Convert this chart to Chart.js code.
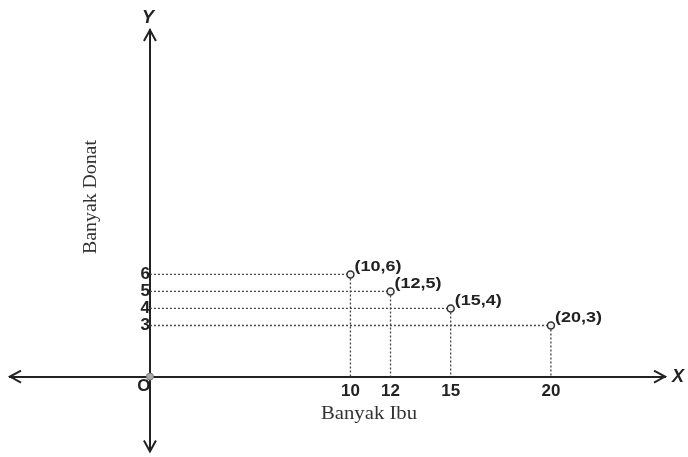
<!DOCTYPE html>
<html lang="id">
<head>
    <meta charset="UTF-8">
    <title>Banyak Ibu dan Banyak Donat</title>
    <script src="https://cdn.jsdelivr.net/npm/chart.js@4.4.1/dist/chart.umd.min.js"></script>
    <style>
        body { margin: 0; background: #fff; }
        canvas { display: block; }
    </style>
</head>
<body>
    <canvas id="grafik" width="688" height="457"></canvas>

    <script>
    // data
    var banyakIbu = [10, 12, 15, 20];
    var banyakDonat = [6, 5, 4, 3];
    var xTicks = [10, 12, 15, 20];
    var yTicks = [3, 4, 5, 6];
    var titikO = [{x: 0, y: 0}];

    var points = banyakIbu.map(function(v, i){ return {x: v, y: banyakDonat[i]}; });

    var ink = '#222';

    // dashed guides, arrows, labels
    var gambarPlugin = {
        id: 'gambar',
        beforeDatasetsDraw: function(chart){
            var ctx = chart.ctx, xs = chart.scales.x, ys = chart.scales.y;
            var x0 = xs.getPixelForValue(0), y0 = ys.getPixelForValue(0);
            ctx.save();
            ctx.strokeStyle = '#444';
            ctx.lineWidth = 1.3;
            ctx.setLineDash([2, 2]);
            points.forEach(function(p){
                var px = xs.getPixelForValue(p.x), py = ys.getPixelForValue(p.y);
                ctx.beginPath();
                ctx.moveTo(x0, py); ctx.lineTo(px, py);
                ctx.moveTo(px, py); ctx.lineTo(px, y0);
                ctx.stroke();
            });
            ctx.restore();
        },
        afterDatasetsDraw: function(chart){
            var ctx = chart.ctx, xs = chart.scales.x, ys = chart.scales.y, a = chart.chartArea;
            var x0 = xs.getPixelForValue(0), y0 = ys.getPixelForValue(0);
            ctx.save();
            // arrow heads
            ctx.strokeStyle = ink;
            ctx.lineWidth = 2;
            ctx.beginPath();
            ctx.moveTo(a.right - 11, y0 - 6); ctx.lineTo(a.right, y0); ctx.lineTo(a.right - 11, y0 + 6);
            ctx.moveTo(a.left + 11, y0 - 6); ctx.lineTo(a.left, y0); ctx.lineTo(a.left + 11, y0 + 6);
            ctx.moveTo(x0 - 6, a.top + 11); ctx.lineTo(x0, a.top); ctx.lineTo(x0 + 6, a.top + 11);
            ctx.moveTo(x0 - 6, a.bottom - 11); ctx.lineTo(x0, a.bottom); ctx.lineTo(x0 + 6, a.bottom - 11);
            ctx.stroke();

            // axis letters
            ctx.fillStyle = ink;
            ctx.font = 'italic bold 18px "Liberation Sans", Arial, sans-serif';
            ctx.textAlign = 'left';
            ctx.textBaseline = 'middle';
            ctx.fillText('X', a.right + 7, y0);
            ctx.textAlign = 'center';
            ctx.fillText('Y', x0 - 2, a.top - 12);
            ctx.font = 'bold 17px "Liberation Sans", Arial, sans-serif';
            ctx.fillText('O', x0 - 6, y0 + 10);

            // point labels
            ctx.font = 'bold 15px "Liberation Sans", Arial, sans-serif';
            ctx.textAlign = 'left';
            ctx.textBaseline = 'alphabetic';
            points.forEach(function(p){
                var px = xs.getPixelForValue(p.x), py = ys.getPixelForValue(p.y);
                ctx.save();
                ctx.translate(px + 4, py - 3);
                ctx.scale(1.2, 1);
                ctx.fillText('(' + p.x + ',' + p.y + ')', 0, 0);
                ctx.restore();
            });

            // axis titles
            ctx.fillStyle = '#333';
            ctx.font = '18px "Liberation Serif", "Times New Roman", serif';
            ctx.textAlign = 'center';
            ctx.textBaseline = 'middle';
            ctx.save();
            ctx.translate(369, 414);
            ctx.scale(1.15, 1);
            ctx.fillText('Banyak Ibu', 0, 0);
            ctx.restore();
            ctx.save();
            ctx.translate(91, 197);
            ctx.rotate(-Math.PI / 2);
            ctx.scale(1.1, 1);
            ctx.fillText('Banyak Donat', 0, 0);
            ctx.restore();
            ctx.restore();
        }
    };

    // axes sit on the zero lines, so they should not take room or add padding
    function noRoom(scale){
        if (scale.isHorizontal()) scale.height = 0; else scale.width = 0;
        scale.paddingTop = scale.paddingBottom = scale.paddingLeft = scale.paddingRight = 0;
    }

    var ctx = document.getElementById('grafik').getContext('2d');
    var grafik = new Chart(ctx, {
        type: 'scatter',
        data: {
            datasets: [{
                data: points,
                pointRadius: 3.5,
                pointBackgroundColor: '#eee',
                pointBorderColor: '#333',
                pointBorderWidth: 1.5
            }, {
                data: titikO,
                pointRadius: 3.5,
                pointBackgroundColor: '#aaa',
                pointBorderColor: '#777',
                pointBorderWidth: 1
            }]
        },
        options: {
            responsive: false,
            animation: false,
            layout: { padding: { left: 10, right: 23, top: 30, bottom: 2 } },
            plugins: { legend: { display: false }, tooltip: { enabled: false } },
            scales: {
                x: {
                    type: 'linear',
                    position: { y: 0 },
                    min: -6.98,
                    max: 25.69,
                    grid: { display: false, drawTicks: false },
                    border: { display: true, color: ink, width: 2 },
                    afterBuildTicks: function(scale){
                        scale.ticks = xTicks.map(function(v){ return {value: v}; });
                    },
                    afterFit: noRoom,
                    ticks: {
                        autoSkip: false,
                        maxRotation: 0,
                        padding: 5,
                        color: ink,
                        font: { family: '"Liberation Sans", Arial, sans-serif', size: 17, weight: 'bold' }
                    }
                },
                y: {
                    type: 'linear',
                    position: { x: 0 },
                    min: -4.4,
                    max: 20.35,
                    grid: { display: false, drawTicks: false },
                    border: { display: true, color: ink, width: 2 },
                    afterBuildTicks: function(scale){
                        scale.ticks = yTicks.map(function(v){ return {value: v}; });
                    },
                    afterFit: noRoom,
                    ticks: {
                        autoSkip: false,
                        padding: 14,
                        color: ink,
                        font: { family: '"Liberation Sans", Arial, sans-serif', size: 17, weight: 'bold' }
                    }
                }
            }
        },
        plugins: [gambarPlugin]
    });
    </script>
</body>
</html>
